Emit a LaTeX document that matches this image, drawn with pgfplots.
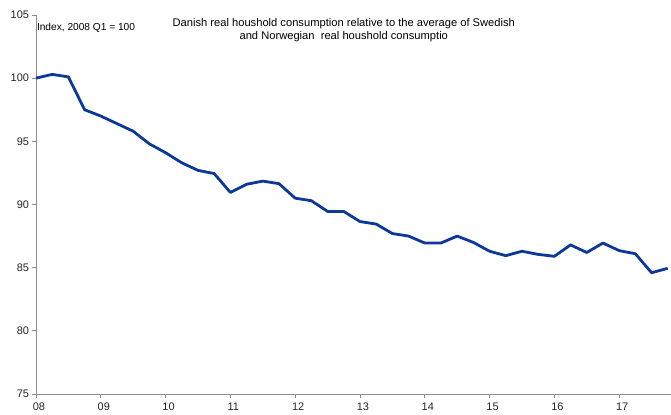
\documentclass[border=0pt]{standalone}
\usepackage{fontspec}
\setmainfont{Liberation Sans}
\usepackage{pgfplots}
\pgfplotsset{compat=1.18}
\definecolor{linecol}{RGB}{12,56,152}
\definecolor{axcol}{RGB}{140,140,140}
\begin{document}
\begin{tikzpicture}
\path[use as bounding box] (-36bp,-21bp) rectangle (635bp,394bp);
\begin{axis}[
  at={(0,0)}, anchor=south west,
  scale only axis, width=635bp, height=379bp,
  xmin=0, xmax=39.2, ymin=75, ymax=105,
  axis x line*=bottom, axis y line*=left,
  axis line style={axcol, line width=0.9bp},
  xtick={0,4,...,36},
  xticklabels={08,09,10,11,12,13,14,15,16,17},
  ytick={75,80,...,105},
  tick align=outside,
  major tick length=3.5bp,
  tick style={axcol, line width=0.9bp},
  ticklabel style={font=\fontsize{11}{13}\selectfont, text=black!85},
  xticklabel style={xshift=3bp, yshift=-3.5bp, inner ysep=2bp},
  /pgf/number format/assume math mode=true,
  clip=false,
]
\addplot[linecol, line width=2.8bp, line join=round] coordinates {
(0,100.0) (1,100.3) (2,100.1) (3,97.5) (4,97.0) (5,96.4) (6,95.8) (7,94.8)
(8,94.1) (9,93.3) (10,92.7) (11,92.45) (12,90.95) (13,91.6) (14,91.85) (15,91.65)
(16,90.5) (17,90.3) (18,89.45) (19,89.45) (20,88.65) (21,88.45) (22,87.7) (23,87.5)
(24,86.95) (25,86.95) (26,87.5) (27,87.0) (28,86.3) (29,85.95) (30,86.3) (31,86.05)
(32,85.9) (33,86.8) (34,86.2) (35,86.95) (36,86.35) (37,86.1) (38,84.6) (39,84.95)
};
\node[anchor=west, inner sep=0pt, font=\fontsize{10.2}{12}\selectfont] at (axis cs:0.05,104.0) {Index, 2008 Q1 = 100};
\node[anchor=north, align=center, inner sep=0pt, font=\fontsize{11.2}{13}\selectfont] at (axis cs:19.0,104.75) {Danish real houshold consumption relative to the average of Swedish\\and Norwegian\ \ real houshold consumptio};
\end{axis}
\end{tikzpicture}
\end{document}
